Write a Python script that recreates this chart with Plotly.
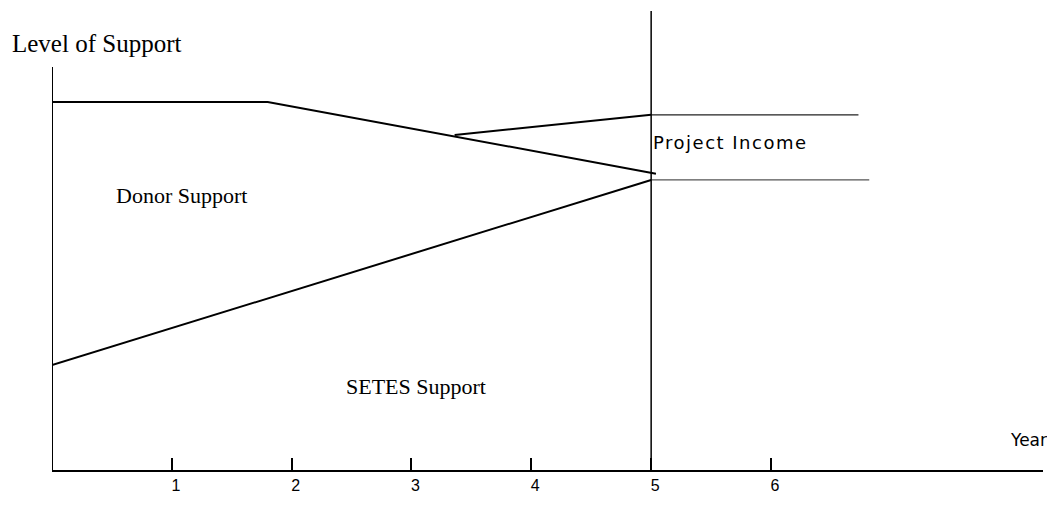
import plotly.graph_objects as go

# Data (years on x, level of support on y)
donor_x = [0, 1.8, 5.04]
donor_y = [100, 100, 80.5]

setes_x = [0, 5]
setes_y = [28.5, 78.8]
setes_ext_x = [5, 6.82]
setes_ext_y = [78.8, 78.8]

income_x = [3.36, 5]
income_y = [91.0, 96.5]
income_ext_x = [5, 6.73]
income_ext_y = [96.5, 96.5]

year5_x = [5, 5]
year5_y = [0, 124.7]

yaxis_x = [0, 0]
yaxis_y = [0, 109.5]

tick_vals = [1, 2, 3, 4, 5, 6]
tick_text = ["1", "2", "3", "4", "5", "6"]

X_MAX = 8.27
Y_MAX = 124.7

fig = go.Figure()

def line(x, y, width=2, color="black"):
    fig.add_trace(go.Scatter(x=x, y=y, mode="lines",
                             line=dict(color=color, width=width),
                             hoverinfo="skip", showlegend=False, cliponaxis=False))

line(yaxis_x, yaxis_y, 2)
line(donor_x, donor_y, 2)
line(setes_x, setes_y, 2)
line(setes_ext_x, setes_ext_y, 1.3, "#555555")
line(income_x, income_y, 2)
line(income_ext_x, income_ext_y, 1.3, "#222222")
line(year5_x, year5_y, 1.5)

serif = "Liberation Serif, Times New Roman, serif"
sans = "Liberation Sans, Arial, sans-serif"

anns = [
    dict(text="Donor Support", x=0.515, y=74.7, font=dict(family=serif, size=22)),
    dict(text="SETES Support", x=2.44, y=22.6, font=dict(family=serif, size=22)),
    dict(text='<span style="letter-spacing:1.5px">Project Income</span>', x=5.0, y=89.1,
         font=dict(family="DejaVu Sans, sans-serif", size=18)),
]
for a in anns:
    fig.add_annotation(xref="x", yref="y", xanchor="left", yanchor="middle",
                       showarrow=False, font_color="black", **a)

fig.add_annotation(xref="paper", yref="paper", x=-0.35 / X_MAX, y=116.0 / Y_MAX,
                   text="Level of Support", xanchor="left", yanchor="middle",
                   showarrow=False, font=dict(family=serif, size=25, color="black"))
fig.add_annotation(xref="paper", yref="paper", x=7.98 / X_MAX, y=8.2 / Y_MAX,
                   text="Year", xanchor="left",
                   yanchor="middle", showarrow=False,
                   font=dict(family="DejaVu Sans, sans-serif", size=17, color="black"))

fig.update_layout(
    width=1047, height=490,
    margin=dict(l=44, r=12, t=3, b=28),
    paper_bgcolor="white", plot_bgcolor="white",
    xaxis=dict(range=[0, X_MAX], showgrid=False, zeroline=False, automargin=False,
               showline=True, linecolor="black", linewidth=2,
               ticks="inside", ticklen=12, tickwidth=2, tickcolor="black",
               tickvals=tick_vals, ticktext=tick_text,
               ticklabelstandoff=0, ticklabelshift=4,
               tickfont=dict(family=sans, size=16, color="black")),
    yaxis=dict(range=[0, Y_MAX], showgrid=False, zeroline=False, automargin=False,
               showline=False, showticklabels=False, ticks=""),
)

fig.write_html("out.html")
